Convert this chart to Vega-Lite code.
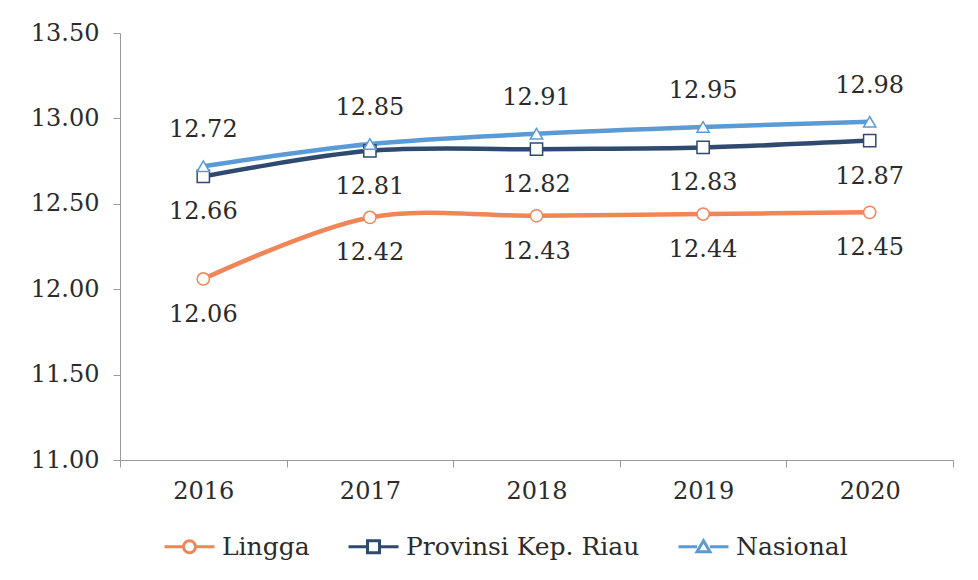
{
  "$schema": "https://vega.github.io/schema/vega-lite/v6.json",
  "width": 833,
  "height": 427,
  "autosize": {"type": "none"},
  "padding": {"left": 120, "top": 33, "right": 25, "bottom": 120},
  "background": "white",
  "config": {
    "view": {"stroke": null},
    "font": "DejaVu Serif",
    "text": {"font": "DejaVu Serif"}
  },
  "data": {
    "values": [
      {"year": "2016", "series": "Lingga", "value": 12.06},
      {"year": "2017", "series": "Lingga", "value": 12.42},
      {"year": "2018", "series": "Lingga", "value": 12.43},
      {"year": "2019", "series": "Lingga", "value": 12.44},
      {"year": "2020", "series": "Lingga", "value": 12.45},
      {"year": "2016", "series": "Provinsi Kep. Riau", "value": 12.66},
      {"year": "2017", "series": "Provinsi Kep. Riau", "value": 12.81},
      {"year": "2018", "series": "Provinsi Kep. Riau", "value": 12.82},
      {"year": "2019", "series": "Provinsi Kep. Riau", "value": 12.83},
      {"year": "2020", "series": "Provinsi Kep. Riau", "value": 12.87},
      {"year": "2016", "series": "Nasional", "value": 12.72},
      {"year": "2017", "series": "Nasional", "value": 12.85},
      {"year": "2018", "series": "Nasional", "value": 12.91},
      {"year": "2019", "series": "Nasional", "value": 12.95},
      {"year": "2020", "series": "Nasional", "value": 12.98}
    ]
  },
  "encoding": {
    "x": {
      "field": "year",
      "type": "ordinal",
      "scale": {"type": "band", "paddingInner": 0, "paddingOuter": 0},
      "axis": {
        "title": null,
        "labelAngle": 0,
        "labelFontSize": 24,
        "labelColor": "#2b2b2b",
        "labelFont": "DejaVu Serif",
        "labelPadding": 12,
        "tickBand": "extent",
        "tickSize": 7,
        "tickColor": "#9a9a9a",
        "domainColor": "#9a9a9a",
        "grid": false
      }
    },
    "y": {
      "field": "value",
      "type": "quantitative",
      "scale": {"domain": [11, 13.5], "nice": false, "zero": false},
      "axis": {
        "title": null,
        "values": [11, 11.5, 12, 12.5, 13, 13.5],
        "format": ".2f",
        "labelFontSize": 24,
        "labelColor": "#2b2b2b",
        "labelFont": "DejaVu Serif",
        "labelPadding": 14,
        "tickSize": 7,
        "tickColor": "#9a9a9a",
        "domainColor": "#9a9a9a",
        "grid": false
      }
    },
    "color": {
      "field": "series",
      "type": "nominal",
      "scale": {
        "domain": ["Lingga", "Provinsi Kep. Riau", "Nasional"],
        "range": ["#F08557", "#2F4A6E", "#5B9BD5"]
      },
      "legend": {
        "title": null,
        "orient": "none",
        "direction": "horizontal",
        "legendX": 43,
        "legendY": 487,
        "symbolSize": 2500,
        "symbolStrokeWidth": 3,
        "labelFontSize": 25,
        "labelColor": "#2b2b2b",
        "labelFont": "DejaVu Serif",
        "labelOffset": 6,
        "labelLimit": 0,
        "columnPadding": 32,
        "encode": {
          "symbols": {
            "update": {
              "shape": {"signal": "datum.value === 'Lingga' ? 'M-1,0H-0.24M0.24,0H1M0.24,0A0.24,0.24 0 1,1 -0.24,0A0.24,0.24 0 1,1 0.24,0Z' : (datum.value === 'Nasional' ? 'M-1,0H-0.26M0.26,0H1M0,-0.24L0.26,0.2H-0.26Z' : 'M-1,0H-0.24M0.24,0H1M-0.24,-0.24H0.24V0.24H-0.24Z')"},
              "fill": {"value": "white"},
              "strokeWidth": {"value": 3}
            }
          }
        }
      }
    }
  },
  "layer": [
    {
      "mark": {"type": "line", "interpolate": "catmull-rom", "strokeWidth": 4.5}
    },
    {
      "transform": [{"filter": "datum.series === 'Lingga'"}],
      "mark": {"type": "point", "shape": "circle", "filled": false, "fill": "white", "fillOpacity": 1, "opacity": 1, "size": 150, "strokeWidth": 1.5}
    },
    {
      "transform": [{"filter": "datum.series === 'Provinsi Kep. Riau'"}],
      "mark": {"type": "point", "shape": "square", "filled": false, "fill": "white", "fillOpacity": 1, "opacity": 1, "size": 150, "strokeWidth": 1.5}
    },
    {
      "transform": [{"filter": "datum.series === 'Nasional'"}],
      "mark": {"type": "point", "shape": "triangle-up", "filled": false, "fill": "white", "fillOpacity": 1, "opacity": 1, "size": 150, "strokeWidth": 1.5}
    },
    {
      "transform": [{"filter": "datum.series === 'Nasional'"}],
      "mark": {"type": "text", "dy": -36, "fontSize": 24, "font": "DejaVu Serif"},
      "encoding": {"text": {"field": "value", "type": "quantitative", "format": ".2f"}, "color": {"value": "#2b2b2b"}}
    },
    {
      "transform": [{"filter": "datum.series !== 'Nasional'"}],
      "mark": {"type": "text", "dy": 36, "fontSize": 24, "font": "DejaVu Serif"},
      "encoding": {"text": {"field": "value", "type": "quantitative", "format": ".2f"}, "color": {"value": "#2b2b2b"}}
    }
  ]
}
